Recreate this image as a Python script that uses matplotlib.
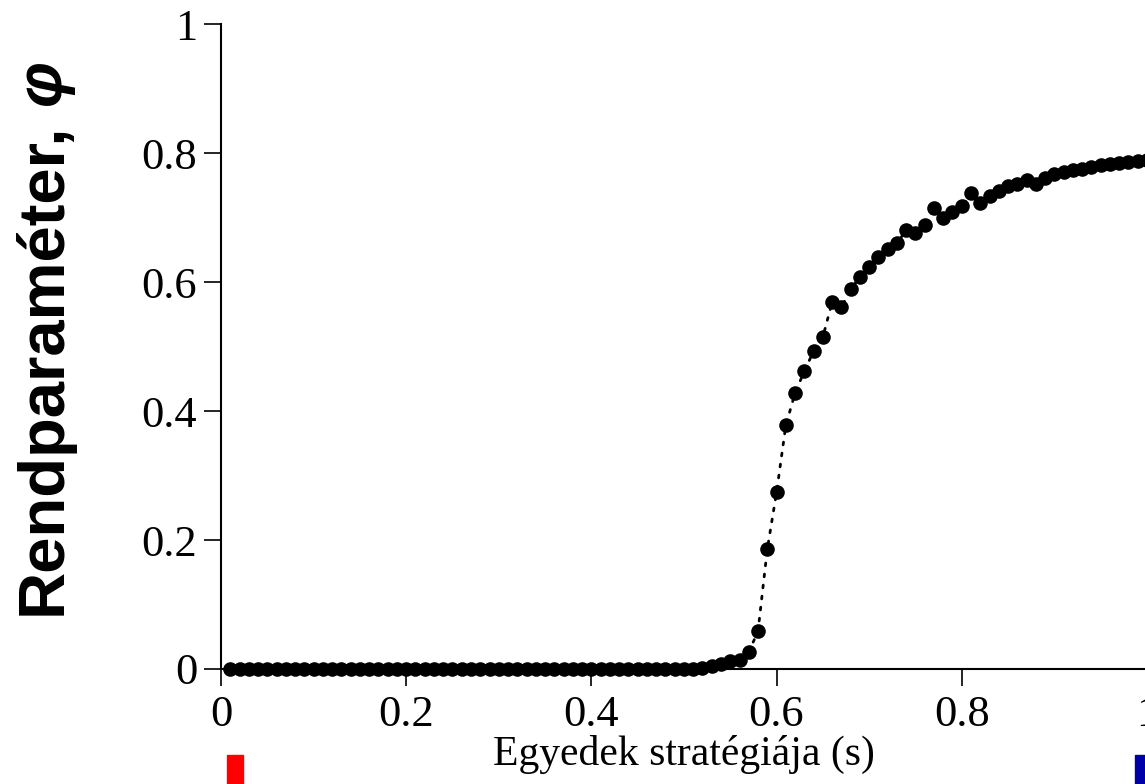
import numpy as np
import matplotlib
matplotlib.use("Agg")
import matplotlib.pyplot as plt
from matplotlib.patches import Rectangle

# strategy grid s = 0.01 ... 1.00
s_values = np.linspace(0.01, 1.0, 100)

# order parameter
phi_values = [0.0] * 51 + [
    0.002, 0.004, 0.008, 0.012, 0.014, 0.026, 0.059, 0.186, 0.274,
    0.378, 0.428, 0.462, 0.493, 0.515, 0.569, 0.561, 0.589, 0.608, 0.623,
    0.639, 0.652, 0.660, 0.681, 0.677, 0.689, 0.715, 0.700, 0.709, 0.718,
    0.738, 0.723, 0.734, 0.741, 0.749, 0.753, 0.758, 0.752, 0.762, 0.768,
    0.771, 0.774, 0.776, 0.779, 0.781, 0.783, 0.785, 0.787, 0.788, 0.790,
]

x_ticks = [0, 0.2, 0.4, 0.6, 0.8, 1]
x_ticklabels = ["0", "0.2", "0.4", "0.6", "0.8", "1"]
y_ticks = [0, 0.2, 0.4, 0.6, 0.8, 1]
y_ticklabels = ["0", "0.2", "0.4", "0.6", "0.8", "1"]

fig = plt.figure(figsize=(11.45, 7.84), dpi=100)
ax = fig.add_axes([0.193, 0.1467, 0.8087, 0.8223])

ax.plot(s_values, phi_values, color="black", linestyle=(0, (1, 3)), linewidth=2,
        dash_capstyle="round", marker="o", markersize=10.5, markeredgewidth=0,
        clip_on=False, zorder=3)

ax.set_xlim(0, 1)
ax.set_ylim(0, 1)
ax.spines["top"].set_visible(False)
ax.spines["right"].set_visible(False)
for sp in ("left", "bottom"):
    ax.spines[sp].set_linewidth(1.5)

serif = "Liberation Serif"
ax.set_xticks(x_ticks)
ax.set_xticklabels(x_ticklabels, fontfamily=serif, fontsize=32)
ax.set_yticks(y_ticks)
ax.set_yticklabels(y_ticklabels, fontfamily=serif, fontsize=32)
ax.tick_params(direction="out", length=12, width=1.2, pad=5)
ax.tick_params(axis="x", pad=7)

ax.set_xlabel("Egyedek stratégiája (s)", fontfamily=serif, fontsize=30, labelpad=0)

# y label: bold upright text plus bold italic phi
lab = fig.text(0.038, 0.216, "Rendparaméter,", rotation=90, ha="center", va="bottom",
               fontfamily="Liberation Sans", fontweight="bold", fontsize=47)
ax.annotate("φ", xy=(0.5, 1), xycoords=lab, xytext=(0, 12), textcoords="offset points",
            rotation=90, ha="center", va="bottom", fontfamily="Liberation Sans",
            fontweight="bold", fontstyle="italic", fontsize=47, annotation_clip=False)

# colour markers under the axis ends
fig.patches.append(Rectangle((227 / 1145, 0), 16 / 1145, 29 / 784,
                             transform=fig.transFigure, color="#ff0000"))
fig.patches.append(Rectangle((1135 / 1145, 0), 12 / 1145, 29 / 784,
                             transform=fig.transFigure, color="#0000a8"))

fig.savefig("out.png", dpi=100)
